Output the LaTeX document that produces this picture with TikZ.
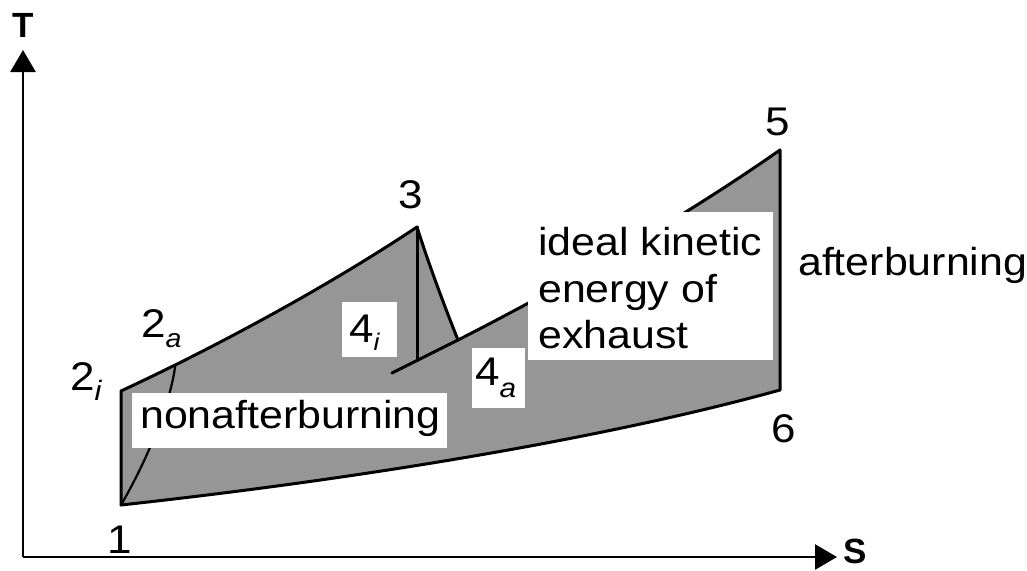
\documentclass[tikz,border=0pt]{standalone}
\usepackage{fontspec}
\setmainfont{Liberation Sans}
\newfontfamily\widesans[FakeStretch=1.1]{Liberation Sans}
\usetikzlibrary{arrows.meta}
\definecolor{areagray}{RGB}{150,150,150}
\begin{document}
\begin{tikzpicture}[x=1pt,y=-1pt,
  curve/.style={line width=3pt, line join=round, line cap=round},
  axis/.style={line width=2.5pt, -{Triangle[length=22pt,width=25pt]}},
  whitebox/.style={fill=white, draw=none, inner sep=0pt},
  lab/.style={inner sep=0pt, anchor=base west},
  big/.style={font=\widesans\fontsize{39}{46.5}\selectfont},
  digit/.style={inner sep=0pt, anchor=base west, font=\widesans\fontsize{40}{40}\selectfont},
  axlab/.style={inner sep=0pt, anchor=base west, font=\bfseries\fontsize{35}{35}\selectfont}]
\useasboundingbox (0,0) rectangle (1027,570);
% key points
\coordinate (o) at (23,557);
\coordinate (ytip) at (23,50);
\coordinate (xtip) at (837,557);
\coordinate (p1) at (121,505);
\coordinate (p2i) at (121,391);
\coordinate (p3) at (417,227);
\coordinate (p4s) at (392,373);
\coordinate (p4a) at (458,340);
\coordinate (p3b) at (417,360.5);
\coordinate (p5) at (780,150);
\coordinate (p6) at (780,390);
\path (p2i) .. controls (220,345) and (330,285) .. (p3) coordinate[pos=0.18] (p2a);
% shaded area
\fill[areagray] (p1) -- (p2i) .. controls (220,345) and (330,285) .. (p3)
  .. controls (428,262) and (444,305) .. (p4a)
  .. controls (560,288) and (680,220) .. (p5) -- (p6)
  .. controls (600,440) and (350,480) .. (p1) -- cycle;
% outlines
\draw[curve] (p1) -- (p2i) .. controls (220,345) and (330,285) .. (p3);
\draw[curve] (p3) -- (p3b);
\draw[curve] (p3) .. controls (428,262) and (444,305) .. (p4a);
\draw[curve] (p4s) -- (p4a) .. controls (560,288) and (680,220) .. (p5) -- (p6);
\draw[curve] (p6) .. controls (600,440) and (350,480) .. (p1);
\draw[line width=2.2pt] (p2a) .. controls (171,400) and (150,455) .. (p1);
% axes
\draw[axis] (o) -- (ytip);
\draw[axis] (o) -- (xtip);
% white boxes with text
\node (nonab) [whitebox, anchor=north west, minimum width=315pt, minimum height=55pt] at (132,393) {};
\node (nonabt) [lab, big] at (140,428) {nonafterburning};
\node (kin) [whitebox, anchor=north west, minimum width=245pt, minimum height=148pt] at (528,212) {};
\node (kin1) [lab, big] at (538,255) {ideal kinetic};
\node (kin2) [lab, big] at (538,302) {energy of};
\node (kin3) [lab, big] at (538,348) {exhaust};
\node (b4i) [whitebox, anchor=north west, minimum width=55pt, minimum height=55pt] at (342,302) {};
\node (l4i) [digit] at (349,342) {4\raisebox{-8pt}{\fontsize{24}{24}\selectfont\itshape i}};
\node (b4a) [whitebox, anchor=north west, minimum width=53pt, minimum height=60pt] at (472,348) {};
\node (l4a) [digit] at (475,385) {4\raisebox{-12pt}{\fontsize{27}{27}\selectfont\itshape a}};
% other labels
\node (aft) [lab, big] at (798,275) {afterburning};
\node (l1) [digit] at (107,553) {1};
\node (l2i) [digit] at (70,390) {2\raisebox{-10pt}{\fontsize{28}{28}\selectfont\itshape i}};
\node (l2a) [digit] at (141,337) {2\raisebox{-10pt}{\fontsize{26}{26}\selectfont\itshape a}};
\node (l3) [digit] at (398,208) {3};
\node (l5) [digit] at (765,135) {5};
\node (l6) [digit] at (771,442) {6};
\node (lT) [axlab] at (12,37) {T};
\node (lS) [axlab] at (843,563) {S};
\end{tikzpicture}
\end{document}
